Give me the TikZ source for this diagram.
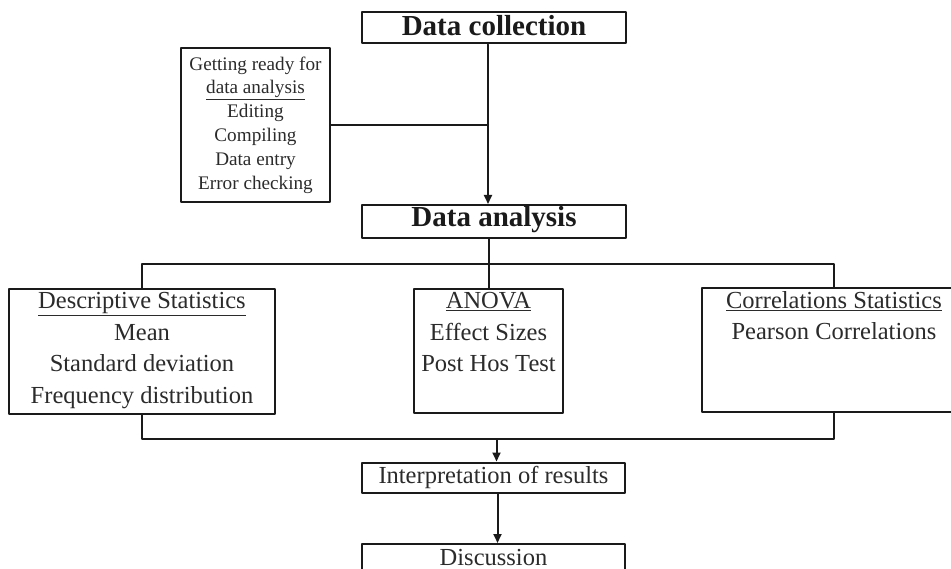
\documentclass[tikz,border=0pt]{standalone}
\usepackage{fontspec}
\setmainfont{Liberation Serif}
\usetikzlibrary{arrows.meta,calc,positioning}
\definecolor{flowInk}{HTML}{1A1A1A}
\definecolor{flowText}{HTML}{2B2B2B}
\tikzset{
  plainline/.style={draw=flowInk, line width=2pt},
  arrowline/.style={plainline, -{Triangle[length=9pt,width=8pt]}},
  stagebox/.style={draw=flowInk, line width=2pt, inner sep=0pt,
    minimum width=264pt, minimum height=31pt, text=flowInk,
    font=\fontsize{29}{35}\selectfont\bfseries,
    text height=20pt, text depth=4pt},
  stepbox/.style={draw=flowInk, line width=2pt, inner sep=0pt,
    minimum width=263pt, minimum height=30pt, text=flowText,
    font=\fontsize{24.5}{31.7}\selectfont,
    text height=17pt, text depth=5pt},
  statbox/.style={draw=flowInk, line width=2pt, inner sep=0pt},
  listtext/.style={anchor=north, align=center, inner sep=4pt, text=flowText,
    font=\fontsize{24.5}{31.7}\selectfont},
}

\begin{document}
\begin{tikzpicture}[x=1pt, y=-1pt, line cap=round, line join=round]
  % frame: 951 x 569, y runs downwards
  \useasboundingbox (0,0) rectangle (951,569);
  \clip (0,0) rectangle (951,569);

  % --- top stages ---
  \node[stagebox] (collect) at (494,28) {Data collection};
  \node[statbox, minimum width=149pt, minimum height=154pt, align=center,
        text=flowText, font=\fontsize{19.2}{23.8}\selectfont]
    (ready) at (255.5,125)
    {Getting ready for\\\underline{data analysis}\\Editing\\Compiling\\Data entry\\Error checking};
  \node[stagebox, minimum height=33pt, text depth=10pt] (analysis) at (494,221.5) {Data analysis};

  % trunk runs a little left of the box centres
  \coordinate (trunk) at ([xshift=-6pt]collect.south);
  \draw[arrowline] (trunk) -- (trunk |- analysis.north);
  \draw[plainline] (ready.east) -- (ready.east -| trunk);

  % --- the three analyses ---
  \node[statbox, minimum width=266pt, minimum height=125pt] (desc) at (142,351.5) {};
  \node[statbox, minimum width=149pt, minimum height=124pt] (anova) at (488.5,351) {};
  \node[statbox, minimum width=264pt, minimum height=124pt] (corr) at (834,350) {};

  \node[listtext] (desctext) at (desc.north)
    {\underline{Descriptive Statistics}\\Mean\\Standard deviation\\Frequency distribution};
  \node[listtext] (anovatext) at (anova.north)
    {\underline{ANOVA}\\Effect Sizes\\Post Hos Test};
  \node[listtext] (corrtext) at (corr.north)
    {\underline{Correlations Statistics}\\Pearson Correlations};

  % split above, merge below
  \draw[plainline] (analysis.south -| anova.north) -- (anova.north);
  \draw[plainline] (desc.north) -- ++(0,-24) -| (corr.north);
  \draw[plainline] (desc.south) -- ++(0,24) coordinate (merge) -| (corr.south);

  % --- closing stages ---
  \node[stepbox] (interp) at (493.5,477.5) {Interpretation of results};
  \node[stepbox, minimum height=31pt] (disc) at (493.5,559.5) {Discussion};

  \draw[arrowline] ([xshift=3pt]merge -| interp.north) -- ([xshift=3pt]interp.north);
  \draw[arrowline] ([xshift=4pt]interp.south) -- ([xshift=4pt]disc.north);
\end{tikzpicture}
\end{document}
